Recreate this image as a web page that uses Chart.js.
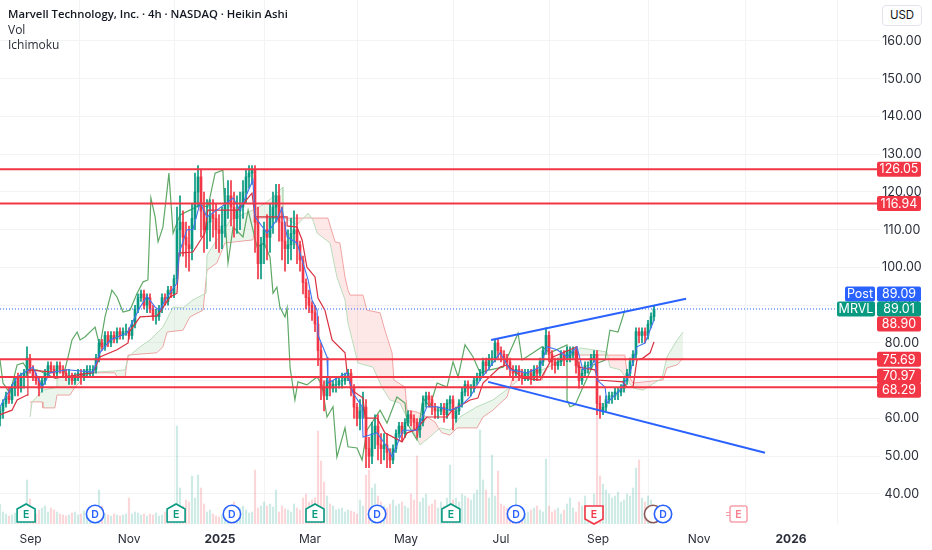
<!DOCTYPE html>
<html><head><meta charset="utf-8">
<script src="https://cdn.jsdelivr.net/npm/chart.js@4"></script>
<style>
html,body{margin:0;padding:0;background:#fff;overflow:hidden}
#wrap{position:relative;width:932px;height:550px;font-family:Inter,"Noto Sans",sans-serif;color:#131722}
canvas{position:absolute;left:0;top:0}
.t{position:absolute;left:8px;font-family:"Open Sans",sans-serif;font-size:12px;line-height:16px;white-space:nowrap;color:#2a2e39}
#usd{position:absolute;left:882px;top:5px;width:38px;height:19px;border:1px solid #e0e3eb;border-radius:4px;font-size:11.5px;line-height:19px;text-align:center;color:#131722;background:#fff}
</style></head><body>
<div id="wrap"><canvas id="c" width="932" height="550"></canvas>
<div class="t" style="top:6px;font-weight:600;font-size:11.3px;color:#131722">Marvell Technology, Inc. · 4h · NASDAQ · Heikin Ashi</div>
<div class="t" style="top:22px">Vol</div>
<div class="t" style="top:37px">Ichimoku</div>
<div id="usd">USD</div></div>
<script>
const candleOpen=[60,62,64,66,65,68,71,68,71,72,
76,73,71,70,68,70,72,74,73,72,
74,73,72,71,71,70,71,72,71,72,
73,72,73,76,80,79,82,80,82,81,
83,82,83,83,82,85,89,92,93,90,
92,89,87,87,89,92,91,94,93,97,
110,112,108,106,105,113,120,124,115,110,
112,114,113,110,109,111,117,119,116,113,
115,116,120,124,125,126,112,101,106,110,
108,113,116,119,112,107,105,106,109,110,
106,102,96,92,90,88,85,78,68,66,
70,68,69,69,70,70,71,72,68,63,
60,62,63,52,50,56,58,53,52,53,
51,49,52,56,58,56,59,61,60,59,
57,59,64,66,65,63,62,62,63,61,
64,65,60,62,64,67,69,68,68,70,
71,72,75,74,76,76,80,78,77,76,
75,73,72,73,72,71,72,72,71,73,
72,75,78,82,77,75,74,75,77,76,
76,77,78,74,70,72,74,74,76,77,
64,62,63,65,66,66,67,67,68,70,
72,75,77,83,82,83,82,85,87];
const candleClose=[62,64,66,65,68,70,68,71,72,76,
73,71,70,68,70,72,74,73,72,74,
73,72,71,71,70,71,72,71,72,73,
73,73,76,80,79,82,80,82,81,83,
82,83,83,82,85,89,92,93,90,92,
89,87,87,89,92,91,94,93,97,110,
112,108,106,105,113,120,124,115,110,112,
114,113,110,109,111,117,119,116,113,115,
116,120,124,125,126,112,101,106,110,108,
113,116,119,112,107,105,106,109,110,106,
102,96,92,90,88,85,78,68,66,70,
68,69,69,70,70,71,72,68,63,60,
62,63,52,50,56,58,53,52,53,51,
49,52,56,58,56,59,61,60,59,57,
59,64,66,65,63,62,62,63,61,64,
65,60,62,64,67,69,68,68,70,71,
72,75,74,76,76,80,78,77,76,75,
73,72,73,72,71,72,72,71,73,72,
75,78,82,77,75,74,75,77,76,78,
78,78,74,70,72,74,74,76,77,64,
62,63,65,66,66,67,67,68,70,72,
75,77,83,82,83,82,85,87,89];
const candleHigh=[63,65,67,68,69,71,72,72,73,79,
77,74,72,71,71,73,75,75,74,75,
75,74,73,73,72,72,73,73,73,74,
74,74,77,81,81,83,83,83,83,84,
84,84,85,84,86,90,93,94,94,93,
93,90,89,90,93,93,95,95,98,116,
119,115,112,111,117,125,127,126,120,118,
118,118,117,114,116,121,123,123,120,119,
120,123,126,127,127,127,116,108,112,114,
117,120,122,122,116,112,110,113,115,114,
107,103,97,94,91,90,87,80,70,71,
71,70,71,71,72,72,73,73,69,64,
65,67,65,55,59,61,61,56,56,56,
52,53,57,59,59,60,62,62,61,60,
60,66,67,67,66,64,63,64,64,65,
66,66,63,65,68,70,70,69,71,72,
73,76,76,77,78,81,81,79,78,77,
76,74,74,74,73,73,73,73,74,74,
76,79,84,83,78,76,76,78,78,79,
79,79,79,75,73,75,75,77,78,78,
66,64,66,67,67,68,68,69,71,73,
76,78,84,84,84,84,86,88,90];
const candleLow=[58,60,63,64,64,66,66,67,68,71,
72,70,69,66,67,69,71,72,71,71,
72,71,70,69,69,69,70,69,70,71,
71,71,72,75,78,78,79,79,80,80,
81,81,82,81,81,84,88,91,89,88,
88,86,85,86,88,90,90,92,92,96,
103,103,100,99,102,110,116,108,104,105,
107,108,105,104,105,108,113,111,108,109,
110,113,117,121,122,104,97,97,101,102,
104,109,112,107,102,99,101,102,105,101,
99,93,89,88,86,83,74,65,62,65,
66,67,67,68,68,69,70,66,60,58,
57,60,47,47,48,52,49,48,49,47,
47,48,51,55,54,55,58,58,57,55,
55,58,63,63,61,60,60,61,59,60,
62,57,59,61,63,66,66,66,67,69,
70,71,72,73,74,75,76,75,74,73,
71,70,71,70,69,70,70,69,70,70,
71,74,77,75,73,72,73,74,74,75,
75,76,72,68,69,71,72,73,75,61,
60,61,62,64,64,65,65,66,67,69,
71,74,76,80,80,80,81,84,86];
const volume=[20,12,10,8,9,11,10,12,14,44,
25,14,10,14,16,18,12,16,14,12,
10,9,8,9,11,12,9,10,13,11,
10,9,12,34,18,10,9,8,10,9,
8,9,10,26,10,12,11,9,10,8,
10,9,11,8,9,12,10,12,14,98,
36,18,24,22,48,26,49,36,20,12,
14,10,8,7,9,8,9,16,22,12,
16,18,14,11,12,54,16,18,22,18,
20,17,34,12,18,15,14,12,20,16,
14,26,30,22,24,26,93,63,42,28,
20,18,14,15,16,12,14,13,12,10,
24,18,49,54,36,40,28,22,18,16,
20,24,18,20,22,18,16,30,24,68,
22,26,30,18,20,24,16,22,18,26,
59,24,26,22,30,28,26,24,30,34,
94,44,34,26,69,28,53,20,18,16,
12,14,36,14,12,10,12,14,16,18,
14,12,65,18,12,14,16,10,14,20,
26,16,12,22,18,28,14,18,30,144,
48,40,34,30,26,28,32,22,24,30,
28,36,56,64,26,22,28,24,16];
const conversionBar=[0,5.7,11,14,16.7,22.3,31,33.3,36.7,42.3,46.7,49,51.7,53.3,55,59,59.7,62.3,64.3,66.7,69,72.3,77.7,80,84.3,85,89,92.3,94,95.7,99,100.7,102.7,104,105.7,106,109,109.3,115.7,117.7,120.7,121,125.7,129,130.7,134.3,139,142.3,145.7,150,153.3,156.7,160,163.3,166.7,170,175.7,180,182.3,185.7,189,192.3,194.3,196.7,198.3,199,201.7,202.3,206.7,210,212.3,215,218];
const conversionValue=[63.1,71,73.6,68.3,72.1,72.9,72.3,77.4,80.8,82.6,89.5,92.4,89.5,88.7,91.4,95.9,103.8,110,110,117.1,113.4,115.2,118.4,115.2,123.2,113.4,109.1,112.6,115.8,108.1,106.5,102,96.7,91.4,88.7,82.1,76.3,69.4,72.1,66.7,63.1,55.1,56.2,52.5,49.8,56.9,56.9,63.1,63.1,62.2,63.1,65.7,70.2,73.6,77.4,72.9,72.1,73.6,79,78.2,76.3,79,72.9,73.6,75.5,70.2,68.3,64.1,67.5,72.1,79,80,86.1];
const baseBar=[0,4,5.7,9,9.3,17.7,18.3,31,33.3,39,42.7,43,46.7,52.3,53.3,56.7,59,59.7,64.3,67.3,68.3,69.3,79.3,84,85,95.7,95.7,99,100.7,102.3,105,106,108.3,110.7,115,115.7,117.3,121,121.7,125.7,128.3,134,135.7,138.3,142.3,149,150.7,156.7,159.3,161,166.7,169,174.3,180,184.3,192.3,192.7,198.3,199.3,207.7,209,211,212.3,214.3,216.7,218];
const baseValue=[61,62.2,64.9,66.2,72.9,72.3,70.7,72.1,76.3,78.2,80,82.9,86.9,87.2,88.2,92.2,93.2,103.8,104.1,107.8,109.1,115.2,115.2,119.7,113.4,113.4,111,110.7,107.3,100.1,97.5,91.9,88.7,80.8,77.4,72.1,67.5,65.4,60.1,60.1,56.2,53.8,56.2,56.9,60.4,60.4,62.2,64.9,65.4,69.4,73.6,74.2,70.7,70.2,76.3,79,73.6,72.9,70.2,69.7,68.3,68.3,75.5,76,77.4,80.3];
const laggingBar=[0,1,3.3,5.7,7.7,9.3,12.3,18.3,21,22.7,24,25.7,26.7,28.3,31.7,33.3,35,37.3,39,41,43.3,45.7,47.7,49.3,50.3,51.7,52.7,54.3,55.7,56.3,57.7,60,63.3,66.7,69.3,71.7,74.3,75,76,77.7,81,82.7,85.7,88,90,91,92.3,93.3,95,95.7,96.7,98.3,99.3,102.3,105.7,107.3,109,111,112.3,115,116,119,120.7,122.3,126.7,129,132.3,135,135.7,139,141,143.3,145.7,149,151,152.7,155,157.7,160,163.3,167.7,172.7,174,177.7,180.7,183.3,189,189,190,191.7,194.3,197.7,201.7,203.3,206,208.3];
const laggingValue=[75.5,69.4,66.7,74.2,74.7,72.9,72.9,70.7,71,76.3,80.8,82.9,80.8,81.6,84.2,79,86.9,94,92.2,88.2,88.7,93.2,96.2,96.7,118.4,113.4,106.8,110.7,120.5,125,109.1,113.9,115.2,116.6,116,125,125.8,113.4,101.2,110.7,108.1,115.2,105.4,106.5,102.8,93.2,94.8,89.5,86.9,89.3,73.4,64.9,69.7,68.9,71,68.9,60.4,63.1,49.8,57.5,52.5,52.2,49,56.9,62.2,58.8,65.7,64.1,58.8,54.3,65.4,63.1,69.4,68.3,75,71,79.5,76.3,72.1,72.9,73.6,82.6,75.5,77.4,79,77.4,79.5,64.9,63.1,63.6,68.3,74.2,75.5,83.4,82.9,88.7];
const spanABar=[10,10.7,14.3,19,19,27.3,31.7,38.3,41.7,42.7,46.7,50,54.3,57.7,61,64.3,68.7,69,72.3,74.3,76.7,84.3,87.7,91,94.3,94.3,99,102.7,104.3,105.7,110,112.3,115,116,119.3,124.3,127.3,130,133.3,136,140,143.3,146.7,150,153.3,159,164.3,170,175.7,180.7,184.3,190,193.3,197.7,202.3,203.3,206.7,211,214.3,220.7,222.3,225.7,227.7];
const spanAValue=[60.4,64.4,67.5,68.3,71,71,72.3,72.6,72.9,76.3,79,80.8,84.2,89.5,89.3,91.4,93.2,103.3,107.3,109.1,112.6,115.2,116.6,118.7,121.3,113.4,111.3,114.4,112.6,109.1,106.5,97.5,91.4,85.3,74.7,73.6,68.3,64.9,64.1,59.6,53,55.1,57.5,56.9,60.4,63.1,64.9,68.3,72.1,72.9,74.2,76.3,78.7,78.2,77.6,73.6,72.9,68.1,67.5,70.7,76.3,80.8,82.9];
const spanBBar=[10,14,14.3,18.3,19,23.3,25,26.7,27.7,38.3,39,41.7,42.7,52.3,54.3,55.7,61,63.3,67.7,69,72.3,75,84.3,85.7,109.3,110.7,111.7,113.3,115,116,116.7,121,122.3,126.7,128.3,130.7,131.3,135,135.7,139,142.3,145,146,147.3,150,152.3,159,161,164.3,169,171,180.7,182.3,190,208.3,209,211,221,222.3,225.7,227.7];
const spanBValue=[64.4,64.4,62.8,62.8,66.2,66.2,68.3,69.7,72.1,72.1,71,71,76.8,77.4,79,82.9,83.4,86.9,88.7,99.3,101.2,106.5,107.3,113.1,113.1,109.4,106.8,106.5,97.5,94,92.7,92.7,88.7,88,83.4,77.4,70.2,68.3,62.2,61.7,60.4,59.1,57.7,56.2,55.6,57.5,57.5,60.4,62.2,65.7,71,70.2,73.4,76.8,76.8,72.1,69.4,70.2,73.4,74.2,76];
const levelValues=[126.05,116.94,75.69,70.97,68.29];
const upperTrendBar=[163.7,228.7];
const upperTrendValue=[80.8,91.7];
const lowerTrendBar=[162.7,255];
const lowerTrendValue=[69.7,50.9];
const lastPrice=89.01;
const postPrice=89.09;
const prevClose=88.90;
const priceTicks=[40,50,60,70,80,90,100,110,120,130,140,150,160];
const monthTicks=[10.17,43,73.33,103.33,135.33,167,199.33,233,263.67];
const monthLabels=["Sep","Nov","2025","Mar","May","Jul","Sep","Nov","2026"];
const earningsBars=[8.7,58.7,105,150.3];
const dividendBars=[31.7,77.3,125.7,172,221];
const reportedBar=198;
const splitBar=217.7;
const upcomingBar=246;

const GREEN='#089981',RED='#f23645',BLUE='#2962ff';
const FONT='Inter,"Noto Sans",sans-serif';
const pts=(xs,ys)=>xs.map((x,i)=>({x,y:ys[i]}));
const line=(label,xs,ys,color,w,order,extra)=>Object.assign({type:'line',label,data:pts(xs,ys),borderColor:color,borderWidth:w,pointRadius:0,tension:0,fill:false,order,yAxisID:'y',xAxisID:'x'},extra||{});
const barColor=(i,a)=>{const up=candleClose[i]>=candleOpen[i];return up?(a?'rgba(8,153,129,'+a+')':GREEN):(a?'rgba(242,54,69,'+a+')':RED)};
const idx=candleClose.map((_,i)=>i);

const datasets=[
 {type:'bar',label:'Vol',data:idx.map(i=>({x:i,y:volume[i]})),backgroundColor:idx.map(i=>barColor(i,0.2)),barThickness:1.5,grouped:false,order:9,yAxisID:'vol',xAxisID:'x'},
 line('Leading Span A',spanABar,spanAValue,'#b9dcbb',1,7,{fill:{target:'+1',above:'rgba(67,160,71,0.10)',below:'rgba(244,67,54,0.12)'}}),
 line('Leading Span B',spanBBar,spanBValue,'#f2a9a9',1,7),
 line('Lagging Span',laggingBar,laggingValue,'#5fa866',1.2,6),
 {type:'bar',label:'Wick',data:idx.map(i=>({x:i,y:[candleLow[i],candleHigh[i]]})),backgroundColor:idx.map(i=>barColor(i)),barThickness:1,grouped:false,order:5,yAxisID:'y',xAxisID:'x'},
 {type:'bar',label:'Body',data:idx.map(i=>({x:i,y:[candleOpen[i],candleClose[i]]})),backgroundColor:idx.map(i=>barColor(i)),barThickness:2,grouped:false,order:4,yAxisID:'y',xAxisID:'x'},
 line('Conversion',conversionBar,conversionValue,'#3f74f0',1.1,3),
 line('Base',baseBar,baseValue,'#d92f3e',1.2,3),
 line('Last',[0,279],[lastPrice,lastPrice],BLUE,1,2,{borderDash:[1,2]}),
 ...levelValues.map(v=>line('Level '+v,[0,294],[v,v],RED,2,1)),
 line('Upper trend',upperTrendBar,upperTrendValue,BLUE,2,0),
 line('Lower trend',lowerTrendBar,lowerTrendValue,BLUE,2,0)
];

function tag(ctx,l,r,cy,color,text){
 ctx.fillStyle=color;ctx.beginPath();ctx.roundRect(l,cy-7.5,r-l,15,2);ctx.fill();
 ctx.fillStyle='#fff';ctx.textAlign='center';ctx.textBaseline='middle';ctx.fillText(text,(l+r)/2,cy+0.5);
}
const overlay={id:'overlay',afterDraw(ch){
 const c=ch.ctx,X=ch.scales.x,Y=ch.scales.y;c.save();
 c.font='12.5px '+FONT;
 const L=877,R=921,yp=Y.getPixelForValue(lastPrice);
 levelValues.forEach((v,i)=>tag(c,L,R,Y.getPixelForValue(v)+(i==4?3:i==3?-1:0),RED,v.toFixed(2)));
 tag(c,845,875,yp-15,BLUE,'Post');tag(c,L,R,yp-15,BLUE,postPrice.toFixed(2));
 tag(c,837,875,yp,GREEN,'MRVL');tag(c,L,R,yp,GREEN,lastPrice.toFixed(2));
 tag(c,L,R,yp+15,RED,prevClose.toFixed(2));
 const my=514,s=9;
 const pent=(px,col,down)=>{c.beginPath();
  if(down){c.moveTo(px-s,my-8);c.lineTo(px+s,my-8);c.lineTo(px+s,my+5);c.lineTo(px,my+10);c.lineTo(px-s,my+5);}
  else{c.moveTo(px,my-10);c.lineTo(px+s,my-5);c.lineTo(px+s,my+8);c.lineTo(px-s,my+8);c.lineTo(px-s,my-5);}
  c.closePath();c.fillStyle='#fff';c.fill();c.strokeStyle=col;c.lineWidth=1.6;c.stroke();
  c.fillStyle=col;c.font='600 10.5px '+FONT;c.textAlign='center';c.textBaseline='middle';c.fillText('E',px,my+0.5);};
 const circ=(px,col,txt)=>{c.beginPath();c.arc(px,my,8.7,0,Math.PI*2);c.fillStyle='#fff';c.fill();c.strokeStyle=col;c.lineWidth=1.6;c.stroke();
  if(txt){c.fillStyle=col;c.font='600 10.5px '+FONT;c.textAlign='center';c.textBaseline='middle';c.fillText(txt,px,my+0.5);}};
 earningsBars.forEach(b=>pent(X.getPixelForValue(b),GREEN,false));
 pent(X.getPixelForValue(reportedBar),RED,true);
 circ(X.getPixelForValue(splitBar),'#8d5a5a','');
 dividendBars.forEach(b=>circ(X.getPixelForValue(b),BLUE,'D'));
 const ux=X.getPixelForValue(upcomingBar);
 c.beginPath();c.roundRect(ux-8,my-8,17,16,2);c.fillStyle='#fff';c.fill();c.strokeStyle='#f7a0aa';c.lineWidth=1.5;c.stroke();
 c.fillStyle='#f7808c';c.font='600 10.5px '+FONT;c.textAlign='center';c.textBaseline='middle';c.fillText('E',ux+0.5,my+0.5);
 c.strokeStyle='#f7a0aa';c.lineWidth=1;c.beginPath();c.moveTo(ux-12,my-1.5);c.lineTo(ux-8,my-1.5);c.moveTo(ux-12,my+1.5);c.lineTo(ux-8,my+1.5);c.stroke();
 c.restore();
}};

new Chart(document.getElementById('c'),{
 data:{datasets},
 plugins:[overlay],
 options:{responsive:false,animation:false,devicePixelRatio:1,
  layout:{padding:0},
  plugins:{legend:{display:false},tooltip:{enabled:false},title:{display:false}},
  scales:{
   x:{type:'linear',offset:false,min:0,max:293.33,
    afterBuildTicks(s){s.ticks=monthTicks.map(v=>({value:v}));},
    afterFit(s){s.height=26;s.paddingLeft=0;s.paddingRight=0;},
    grid:{color:'#f2f3f5',lineWidth:1,drawTicks:false},border:{display:false},
    ticks:{autoSkip:false,maxRotation:0,padding:8,color:'#2a2e39',
     font(ctx){const v=ctx.tick&&ctx.tick.value;const b=(v===monthTicks[2]||v===monthTicks[8]);return {family:FONT,size:12,weight:b?'700':'400'};},
     callback(v){const i=monthTicks.indexOf(v);return i>=0?monthLabels[i]:'';}}},
   y:{type:'linear',position:'right',min:32.05,max:170.86,
    afterBuildTicks(s){s.ticks=priceTicks.map(v=>({value:v}));},
    afterFit(s){s.width=52;s.paddingTop=0;s.paddingBottom=0;},
    grid:{color:'#f2f3f5',lineWidth:1,drawTicks:false},border:{display:false},
    ticks:{padding:2,crossAlign:'center',color:'#2a2e39',font:{family:FONT,size:12.5},callback:v=>v.toFixed(2)}},
   vol:{type:'linear',display:false,min:0,max:524,position:'left',afterFit(s){s.width=0;s.paddingTop=0;s.paddingBottom=0;}}
  }}
});
</script></body></html>
